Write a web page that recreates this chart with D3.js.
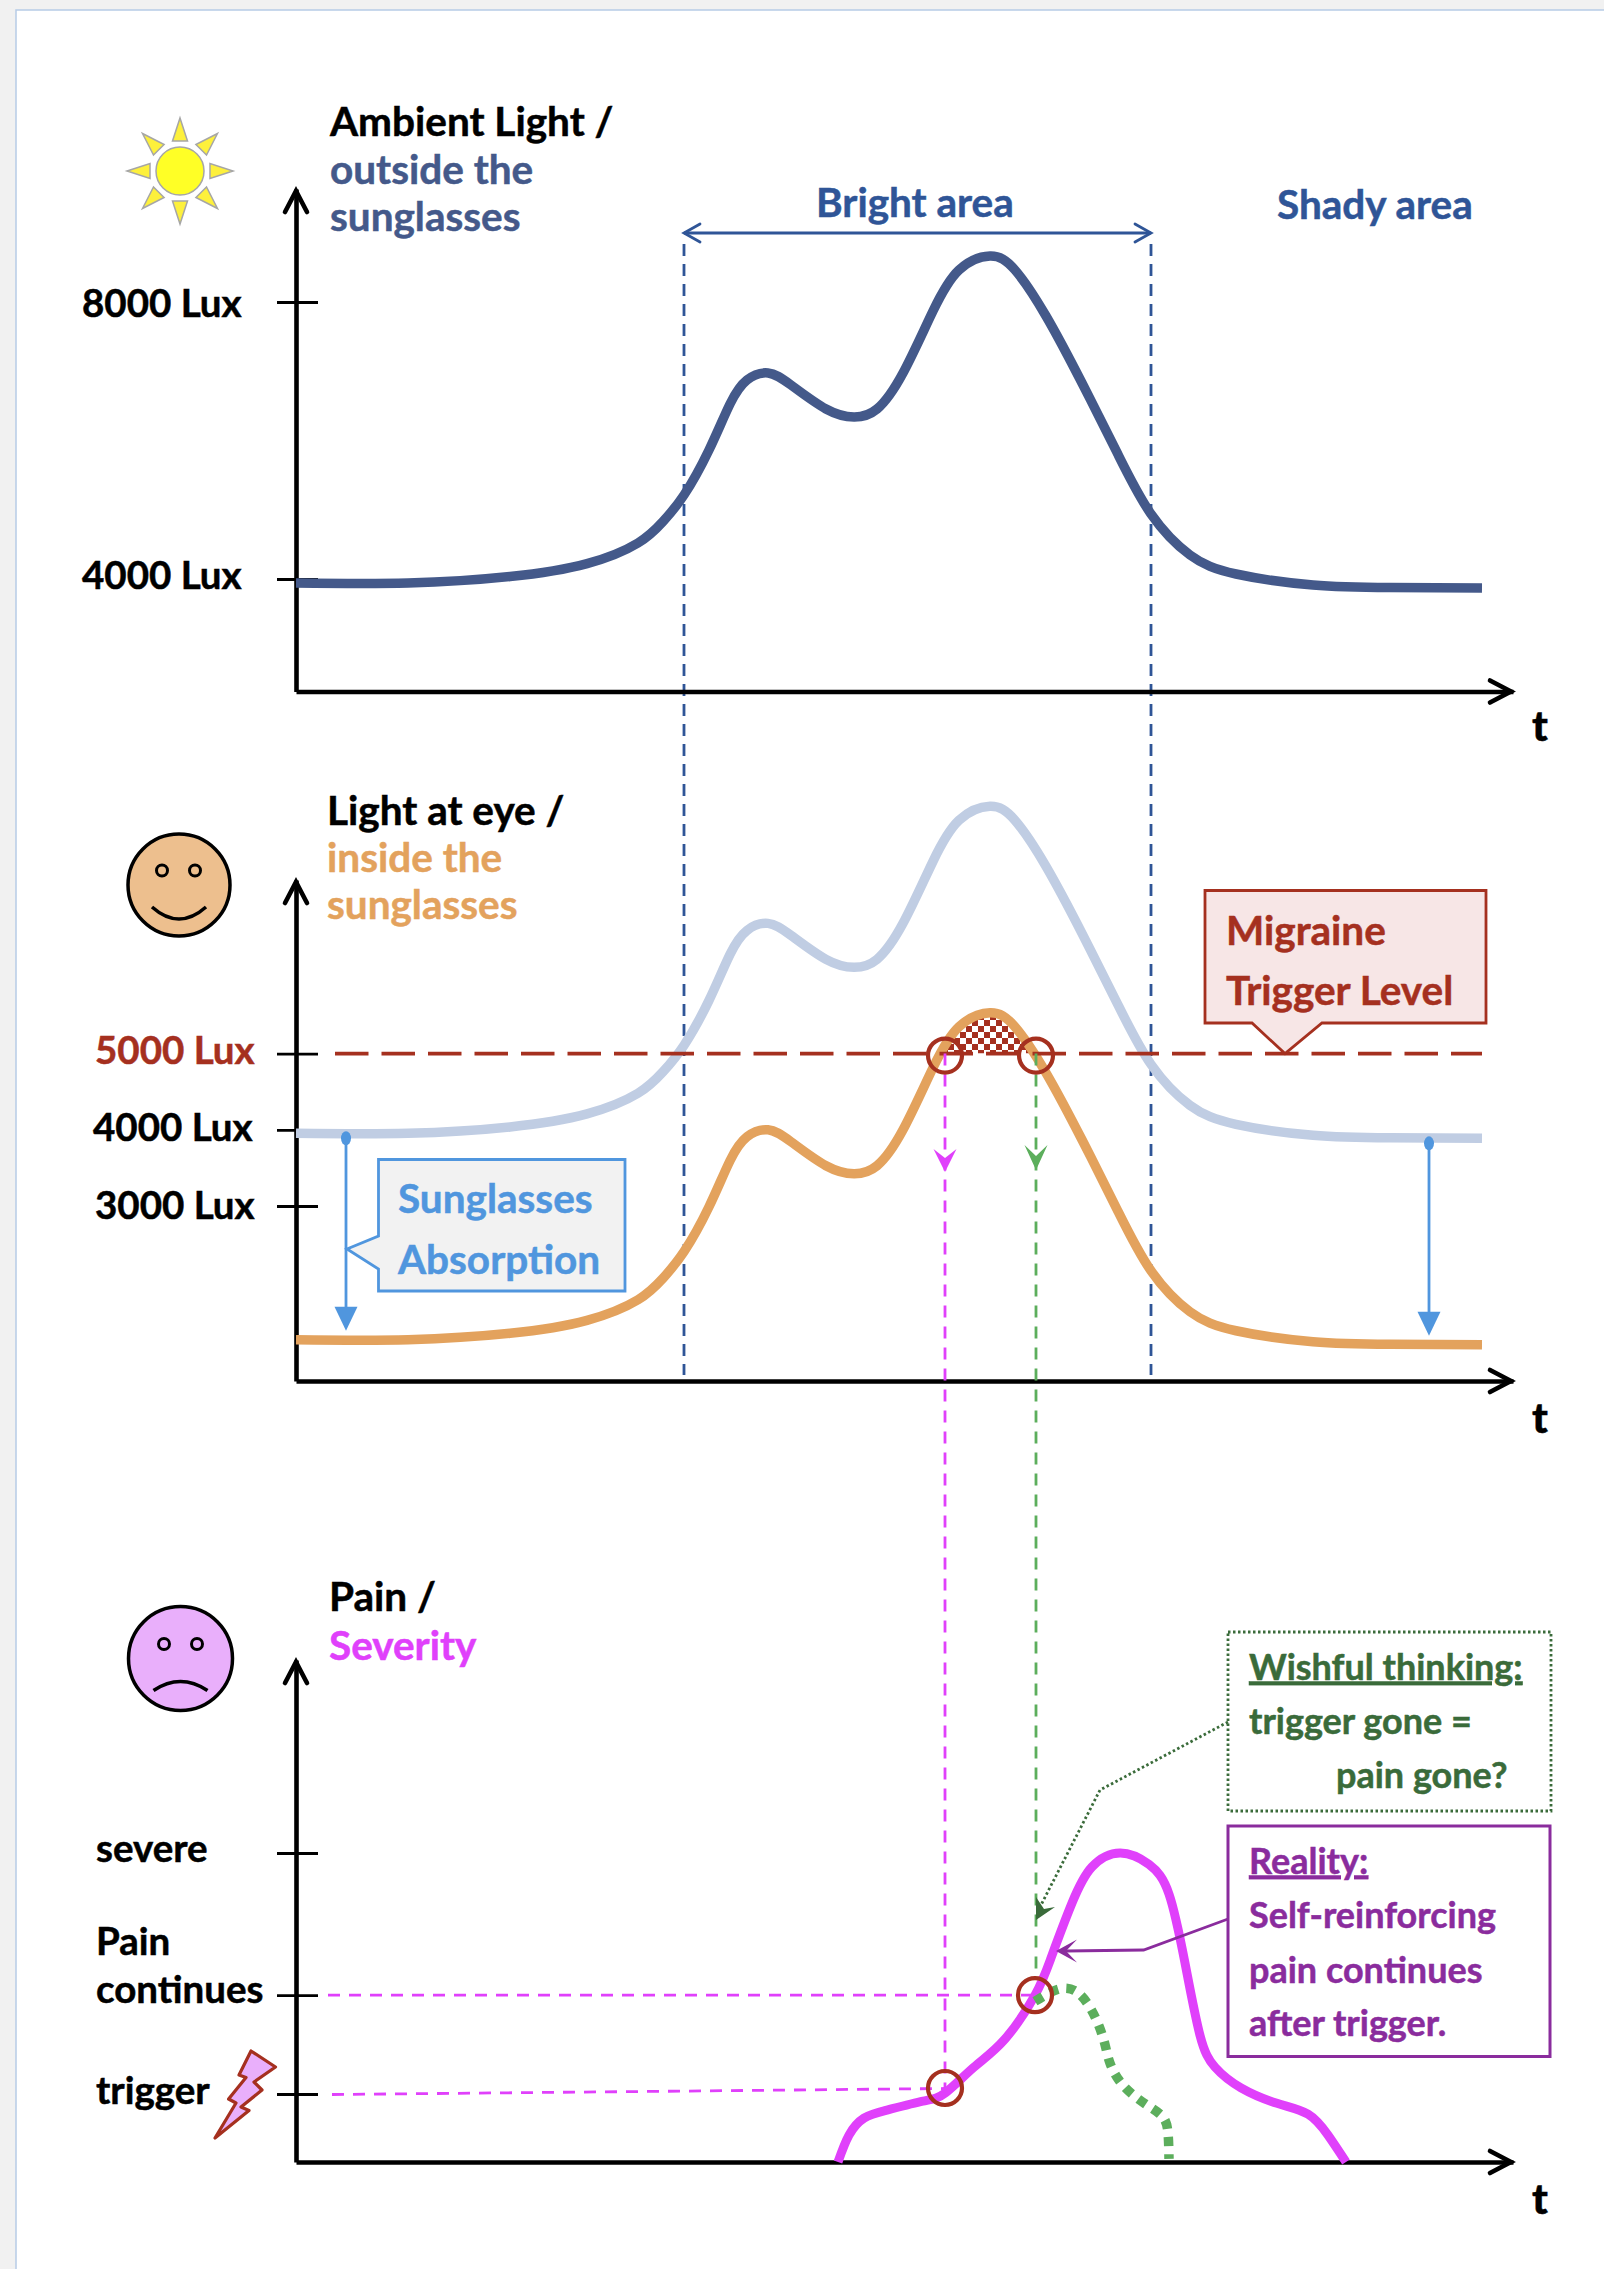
<!DOCTYPE html>
<html>
<head>
<meta charset="utf-8">
<script src="https://cdn.jsdelivr.net/npm/d3@7"></script>
<style>
  body { margin: 0; background: #f1f1f1; }
  text { font-family: Lato, sans-serif; font-weight: 700; font-size: 40.5px; }
</style>
</head>
<body>
<div id="wrapper"></div>
<script>
// time points shared by the three light curves
const lightTimes = [0, 112, 214, 291, 342, 367, 388, 413, 434, 451, 472, 495, 530, 558, 581, 607, 637, 663, 694, 719, 750, 786, 822, 855, 894, 940, 1017, 1094, 1186]
const ambientLux = [3942, 3942, 4035, 4222, 4520, 4830, 5213, 5863, 6527, 6874, 6975, 6801, 6455, 6339, 6455, 6975, 7870, 8462, 8664, 8462, 7798, 6830, 5798, 4939, 4347, 4072, 3913, 3877, 3870]
const outsideLux = [3954, 3954, 4038, 4209, 4479, 4761, 5109, 5699, 6303, 6617, 6709, 6552, 6237, 6132, 6237, 6709, 7523, 8061, 8245, 8061, 7457, 6578, 5640, 4859, 4321, 4072, 3928, 3895, 3888]
const eyeLux = [1245, 1245, 1329, 1500, 1770, 2052, 2400, 2990, 3594, 3908, 4000, 3843, 3528, 3423, 3528, 4000, 4814, 5352, 5536, 5352, 4748, 3869, 2931, 2150, 1612, 1363, 1219, 1186, 1179]

const painTimes = [542, 553, 568, 591, 627, 649, 678, 709, 739, 755, 776, 796, 824, 853, 873, 889, 904, 919, 945, 981, 1012, 1032, 1050]
const painValues = [0, 8.7, 14.2, 16.8, 19.7, 22.3, 30.7, 39.8, 54, 66, 83.8, 95.5, 100, 96.3, 86.7, 64.4, 41, 30.7, 24, 19, 15.5, 8.7, 0]
const wishTimes = [739, 763, 781, 794, 803, 809, 814, 823, 836, 853, 867, 872, 873]
const wishValues = [52, 56, 55, 50, 44, 38, 32, 26.5, 22, 18, 14.5, 9.4, 1]

const ambientTicks = [8000, 4000]
const ambientTickLabels = ["8000 Lux", "4000 Lux"]
const eyeTicks = [5000, 4000, 3000]
const eyeTickLabels = ["5000 Lux", "4000 Lux", "3000 Lux"]
const painTicks = [100, 54, 22]
const painTickLabels = ["severe", "continues", "trigger"]

const brightTimes = [388, 855]
const triggerTimes = [649, 740]
const triggerLux = 5000
const absorptionTimes = [50, 1133]

// colours
const black = "#000"
const navy = "#44598a"
const blue = "#2f5597"
const paleBlue = "#c0cde3"
const orange = "#e3a25d"
const red = "#a5301f"
const sky = "#5096de"
const magenta = "#e040fb"
const green = "#5cae5c"
const darkGreen = "#3a6b3a"
const purple = "#8a2c9d"

const width = 1604
const height = 2269

const svg = d3.select("#wrapper")
  .append("svg")
    .attr("width", width)
    .attr("height", height)
    .style("display", "block")

// page frame
svg.append("rect")
  .attr("x", 16).attr("y", 10)
  .attr("width", width).attr("height", height)
  .attr("fill", "#fff").attr("stroke", "#b7cbe6").attr("stroke-width", 1.5)

const defs = svg.append("defs")
const hatch = defs.append("pattern")
  .attr("id", "hatch")
  .attr("width", 12).attr("height", 12)
  .attr("patternUnits", "userSpaceOnUse")
hatch.append("rect").attr("width", 12).attr("height", 12).attr("fill", "#fff")
hatch.append("rect").attr("width", 6).attr("height", 6).attr("fill", red)
hatch.append("rect").attr("x", 6).attr("y", 6).attr("width", 6).attr("height", 6).attr("fill", red)

// scales
const x = d3.scaleLinear().domain([0, 1217]).range([296, 1513])
const yAmbient = d3.scaleLinear().domain([4000, 8000]).range([579, 302])
const yEye = d3.scaleLinear().domain([3000, 5000]).range([1206, 1053.6])
const yPain = d3.scaleLinear().domain([0, 100]).range([2162, 1853])

const smooth = (times, values, y) => d3.line()
  .x((d, i) => x(times[i]))
  .y(d => y(d))
  .curve(d3.curveNatural)(values)

function label(string, px, py, fill, size) {
  const t = svg.append("text").attr("x", px).attr("y", py)
    .attr("fill", fill).attr("stroke", fill).attr("stroke-width", 0.5)
    .text(string)
  if (size) t.style("font-size", `${size}px`)
  return t
}

// notched solid arrow head, tip at px,py, angle in degrees (0 = pointing down)
function stealth(px, py, angle, len, half, notch, fill) {
  svg.append("path")
    .attr("d", `M0,0L${-half},${-len}L0,${-notch}L${half},${-len}Z`)
    .attr("transform", `translate(${px},${py}) rotate(${angle})`)
    .attr("fill", fill)
}

function openHead(px, py, angle, len, half, stroke, sw) {
  svg.append("path")
    .attr("d", `M${-half},${-len}L0,0L${half},${-len}`)
    .attr("transform", `translate(${px},${py}) rotate(${angle})`)
    .attr("fill", "none").attr("stroke", stroke).attr("stroke-width", sw)
    .attr("stroke-linecap", "round")
}

function drawAxes(y, base, tip, ticks, tickLabels, labelX, labelDy, labelFill, tDrop) {
  const yAxisScale = y.copy().domain([y.invert(base), y.invert(tip)]).range([base, tip])
  const g = svg.append("g").attr("transform", `translate(${x(0)},0)`)
    .call(d3.axisLeft(yAxisScale).tickValues(ticks).tickSizeOuter(0)
      .tickFormat((d, i) => tickLabels[i]))
  g.select(".domain").attr("stroke", black).attr("stroke-width", 4.6)
  g.selectAll(".tick line").attr("x1", -19).attr("x2", 22).attr("stroke", black).attr("stroke-width", 2.8)
  g.selectAll(".tick text")
    .attr("x", (d, i) => labelX[i] - x(0))
    .attr("dy", (d, i) => labelDy[i])
    .attr("text-anchor", "start")
    .attr("fill", (d, i) => labelFill[i])
    .attr("stroke", (d, i) => labelFill[i])
    .attr("stroke-width", 0.5)
    .style("font-size", "38.5px")
    .style("font-family", "Lato, sans-serif")
    .style("font-weight", 700)
  openHead(x(0), tip + 2, 180, 21, 11, black, 4.6)

  const xAxis = svg.append("g").attr("transform", `translate(0,${base})`)
    .call(d3.axisBottom(x).tickValues([]).tickSizeOuter(0))
  xAxis.select(".domain").attr("stroke", black).attr("stroke-width", 4.6)
  openHead(x(1217) - 2, base, -90, 21, 11, black, 4.6)
  label("t", 1532, base + tDrop, black, 42).style("font-weight", 900)
}

// bright area guides
brightTimes.forEach(t => {
  svg.append("line")
    .attr("x1", x(t)).attr("x2", x(t)).attr("y1", 244).attr("y2", 1375)
    .attr("stroke", blue).attr("stroke-width", 2.8).attr("stroke-dasharray", "12,8")
})

// panel 1: ambient light
drawAxes(yAmbient, 691.5, 189, ambientTicks, ambientTickLabels, [82, 82], [14, 9.5], [black, black], 49)
svg.append("path")
  .attr("d", smooth(lightTimes, ambientLux, yAmbient))
  .attr("fill", "none").attr("stroke", navy).attr("stroke-width", 9.5)

svg.append("line")
  .attr("x1", x(brightTimes[0])).attr("x2", x(brightTimes[1])).attr("y1", 233).attr("y2", 233)
  .attr("stroke", blue).attr("stroke-width", 2.8)
openHead(x(brightTimes[0]), 233, 90, 16, 9, blue, 2.8)
openHead(x(brightTimes[1]), 233, -90, 16, 9, blue, 2.8)

label("Ambient Light /", 330, 135.5, black)
label("outside the", 330, 183.5, navy)
label("sunglasses", 330, 230.5, navy)
label("Bright area", 816, 216.5, blue)
label("Shady area", 1277, 218.5, blue)

// sun icon
const sun = svg.append("g").attr("transform", "translate(180,171)")
d3.range(8).forEach(i => {
  sun.append("path")
    .attr("d", "M0,-53L7.5,-30L-7.5,-30Z")
    .attr("transform", `rotate(${i * 45})`)
    .attr("fill", "#fdf03c").attr("stroke", "#a6a6a6").attr("stroke-width", 1.5)
})
sun.append("circle").attr("r", 24).attr("fill", "#ffff26").attr("stroke", "#a6a6a6").attr("stroke-width", 1.5)

// panel 2: light at the eye
drawAxes(yEye, 1381, 880, eyeTicks, eyeTickLabels, [95, 93, 95], [10, 11, 12], [red, black, black], 52)

// exposure above the trigger level
const exposureClip = defs.append("clipPath").attr("id", "above-trigger")
exposureClip.append("rect")
  .attr("x", x(triggerTimes[0])).attr("width", x(triggerTimes[1]) - x(triggerTimes[0]))
  .attr("y", 0).attr("height", yEye(triggerLux))
svg.append("path")
  .attr("d", d3.area()
    .x((d, i) => x(lightTimes[i]))
    .y0(yEye(triggerLux))
    .y1(d => yEye(d))
    .curve(d3.curveNatural)(eyeLux))
  .attr("fill", "url(#hatch)").attr("clip-path", "url(#above-trigger)")

svg.append("path")
  .attr("d", smooth(lightTimes, outsideLux, yEye))
  .attr("fill", "none").attr("stroke", paleBlue).attr("stroke-width", 9.5)
svg.append("path")
  .attr("d", smooth(lightTimes, eyeLux, yEye))
  .attr("fill", "none").attr("stroke", orange).attr("stroke-width", 9.5)

// trigger level
svg.append("line")
  .attr("x1", 335).attr("x2", x(1186)).attr("y1", yEye(triggerLux)).attr("y2", yEye(triggerLux))
  .attr("stroke", red).attr("stroke-width", 3.8).attr("stroke-dasharray", "33.5,13")

// migraine callout
svg.append("path")
  .attr("d", "M1205,890.5H1486V1023H1322L1285,1053.6L1252,1023H1205Z")
  .attr("fill", "#f7e6e6").attr("stroke", red).attr("stroke-width", 2.8)
label("Migraine", 1226, 944.5, red)
label("Trigger Level", 1226, 1005, red)

// absorption arrows
absorptionTimes.forEach((t, i) => {
  const top = yEye([3954, 3888][i])
  const bottom = yEye([1245, 1179][i]) - 9
  svg.append("line").attr("x1", x(t)).attr("x2", x(t)).attr("y1", top).attr("y2", bottom - 10)
    .attr("stroke", sky).attr("stroke-width", 2.8)
  svg.append("ellipse").attr("cx", x(t)).attr("cy", top + 5).attr("rx", 5).attr("ry", 7).attr("fill", sky)
  stealth(x(t), bottom, 0, 24, 11.5, 24, sky)
})

// absorption callout
svg.append("path")
  .attr("d", "M378.5,1159.5H625V1291H378.5V1269L347,1249L378.5,1236Z")
  .attr("fill", "#f2f2f2").attr("stroke", sky).attr("stroke-width", 2.8)
label("Sunglasses", 398, 1212.5, sky)
label("Absorption", 398, 1273.5, sky)

label("Light at eye /", 327, 824.5, black)
label("inside the", 327, 872, orange)
label("sunglasses", 327, 919, orange)

// happy face
const happy = svg.append("g").attr("transform", "translate(179,885)")
happy.append("circle").attr("r", 51).attr("fill", "#edbf8e").attr("stroke", black).attr("stroke-width", 3.5)
happy.selectAll(".eye").data([-17, 16]).enter().append("circle")
  .attr("cx", d => d).attr("cy", -14.5).attr("r", 5.5)
  .attr("fill", "none").attr("stroke", black).attr("stroke-width", 3)
happy.append("path").attr("d", "M-27,22Q0,46 27,22")
  .attr("fill", "none").attr("stroke", black).attr("stroke-width", 3.5)

// panel 3: pain
drawAxes(yPain, 2162, 1660, painTicks, painTickLabels, [96, 96, 96], [8, 7, 9], [black, black, black], 52)
label("Pain", 96, 1955, black, 38.5)

// links between the panels
svg.append("line")
  .attr("x1", x(triggerTimes[0])).attr("x2", x(triggerTimes[0]))
  .attr("y1", yEye(triggerLux)).attr("y2", yPain(22))
  .attr("stroke", magenta).attr("stroke-width", 2.8).attr("stroke-dasharray", "12,9")
svg.append("line")
  .attr("x1", x(triggerTimes[1])).attr("x2", x(triggerTimes[1]))
  .attr("y1", yEye(triggerLux)).attr("y2", yPain(54) - 20)
  .attr("stroke", green).attr("stroke-width", 2.8).attr("stroke-dasharray", "12,9")
svg.append("line")
  .attr("x1", 328).attr("x2", x(739)).attr("y1", yPain(54)).attr("y2", yPain(54))
  .attr("stroke", magenta).attr("stroke-width", 2.8).attr("stroke-dasharray", "12,9")
svg.append("line")
  .attr("x1", 332).attr("x2", x(649)).attr("y1", yPain(22) + 0.5).attr("y2", yPain(22) - 5.5)
  .attr("stroke", magenta).attr("stroke-width", 2.8).attr("stroke-dasharray", "12,9")
stealth(x(triggerTimes[0]), 1172, 0, 23, 11.5, 14, magenta)
stealth(x(triggerTimes[1]), 1170, 0, 25, 11.5, 14, green)

svg.append("path")
  .attr("d", smooth(painTimes, painValues, yPain))
  .attr("fill", "none").attr("stroke", magenta).attr("stroke-width", 9)
svg.append("path")
  .attr("d", smooth(wishTimes, wishValues, yPain))
  .attr("fill", "none").attr("stroke", green).attr("stroke-width", 9.5).attr("stroke-dasharray", "9,8.2")

// crossing markers
const crossings = [
  [x(triggerTimes[0]), yEye(triggerLux) + 2],
  [x(triggerTimes[1]), yEye(triggerLux) + 2],
  [x(649), yPain(22) - 6],
  [x(739), yPain(54)]
]
svg.selectAll(".crossing").data(crossings).enter().append("circle")
  .attr("cx", d => d[0]).attr("cy", d => d[1]).attr("r", 17)
  .attr("fill", "none").attr("stroke", red).attr("stroke-width", 4.2)

// wishful thinking callout
svg.append("rect")
  .attr("x", 1228).attr("y", 1632).attr("width", 323).attr("height", 179)
  .attr("fill", "#fff").attr("stroke", darkGreen).attr("stroke-width", 2.8).attr("stroke-dasharray", "2.5,2.5")
svg.append("path")
  .attr("d", "M1228,1722L1100,1790L1041,1905")
  .attr("fill", "none").attr("stroke", darkGreen).attr("stroke-width", 2.8).attr("stroke-dasharray", "2.5,2.5")
svg.append("path").attr("d", "M1036,1920L1036,1897L1044,1909L1055,1907Z").attr("fill", darkGreen)
label("Wishful thinking:", 1249, 1679.5, darkGreen, 36).attr("text-decoration", "underline")
label("trigger gone =", 1249, 1733.5, darkGreen, 36)
label("pain gone?", 1336, 1787.5, darkGreen, 36)

// reality callout
svg.append("rect")
  .attr("x", 1228).attr("y", 1826).attr("width", 322).attr("height", 230.5)
  .attr("fill", "#fff").attr("stroke", purple).attr("stroke-width", 3)
svg.append("path")
  .attr("d", "M1228,1919L1143.6,1950L1066,1951")
  .attr("fill", "none").attr("stroke", purple).attr("stroke-width", 2.8)
stealth(1056, 1951, 90, 21, 11.5, 10, purple)
label("Reality:", 1249, 1873.5, purple, 36).attr("text-decoration", "underline")
label("Self-reinforcing", 1249, 1927.5, purple, 36)
label("pain continues", 1249, 1982.5, purple, 36)
label("after trigger.", 1249, 2035.5, purple, 36)

label("Pain /", 329, 1611, black)
label("Severity", 329, 1659.5, magenta)

// sad face
const sad = svg.append("g").attr("transform", "translate(180.5,1658.5)")
sad.append("circle").attr("r", 52).attr("fill", "#e9affb").attr("stroke", black).attr("stroke-width", 3.5)
sad.selectAll(".eye").data([-16.5, 16.5]).enter().append("circle")
  .attr("cx", d => d).attr("cy", -14.5).attr("r", 5.5)
  .attr("fill", "none").attr("stroke", black).attr("stroke-width", 3)
sad.append("path").attr("d", "M-27,32Q0,14 27,32")
  .attr("fill", "none").attr("stroke", black).attr("stroke-width", 3.5)

// lightning bolt
svg.append("path")
  .attr("d", "M251,2051L275.5,2067L254,2082L262,2090L241,2107L249,2110.5L215,2138L236,2103L228.6,2099L246,2077.5L239,2075Z")
  .attr("fill", "#e9affb").attr("stroke", red).attr("stroke-width", 3.2).attr("stroke-linejoin", "round")
</script>
</body>
</html>
